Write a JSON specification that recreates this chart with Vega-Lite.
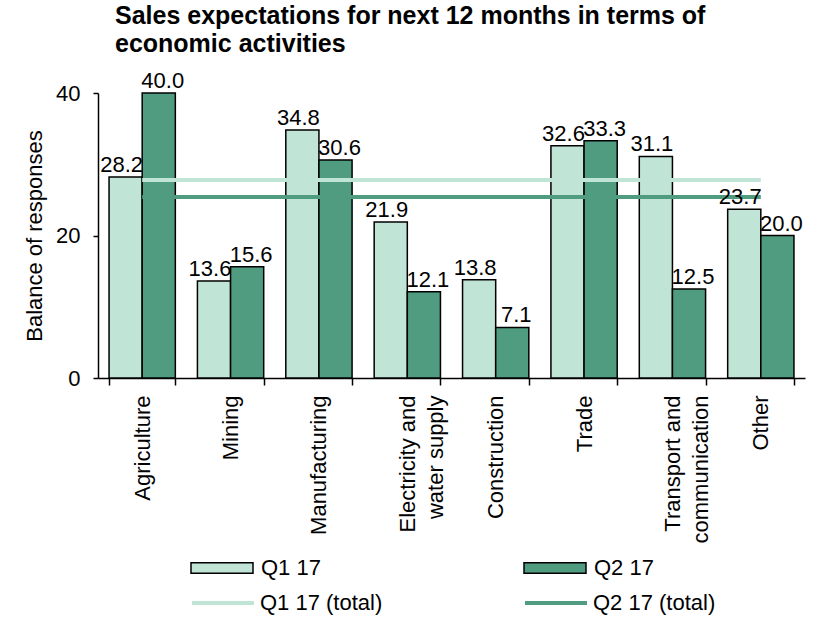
{
  "$schema": "https://vega.github.io/schema/vega-lite/v6.json",
  "width": 707,
  "height": 285,
  "autosize": {"type": "none"},
  "padding": {"left": 98, "top": 93, "right": 16, "bottom": 239},
  "background": "white",
  "config": {
    "font": "Liberation Sans",
    "view": {"stroke": null}
  },
  "title": {
    "text": ["Sales expectations for next 12 months in terms of", "economic activities"],
    "anchor": "start",
    "frame": "group",
    "dx": 17,
    "fontSize": 25,
    "font": "Liberation Sans",
    "fontWeight": "bold",
    "lineHeight": 28,
    "offset": 13,
    "color": "black"
  },
  "datasets": {
    "bars": [
      {"category": "Agriculture", "series": "Q1 17", "value": 28.2},
      {"category": "Agriculture", "series": "Q2 17", "value": 40.0},
      {"category": "Mining", "series": "Q1 17", "value": 13.6},
      {"category": "Mining", "series": "Q2 17", "value": 15.6},
      {"category": "Manufacturing", "series": "Q1 17", "value": 34.8},
      {"category": "Manufacturing", "series": "Q2 17", "value": 30.6},
      {"category": "Electricity and water supply", "series": "Q1 17", "value": 21.9},
      {"category": "Electricity and water supply", "series": "Q2 17", "value": 12.1},
      {"category": "Construction", "series": "Q1 17", "value": 13.8},
      {"category": "Construction", "series": "Q2 17", "value": 7.1},
      {"category": "Trade", "series": "Q1 17", "value": 32.6},
      {"category": "Trade", "series": "Q2 17", "value": 33.3},
      {"category": "Transport and communication", "series": "Q1 17", "value": 31.1},
      {"category": "Transport and communication", "series": "Q2 17", "value": 12.5},
      {"category": "Other", "series": "Q1 17", "value": 23.7},
      {"category": "Other", "series": "Q2 17", "value": 20.0}
    ],
    "totals": [
      {"category": "Agriculture", "series": "Q1 17 (total)", "value": 27.8},
      {"category": "Other", "series": "Q1 17 (total)", "value": 27.8},
      {"category": "Agriculture", "series": "Q2 17 (total)", "value": 25.4},
      {"category": "Other", "series": "Q2 17 (total)", "value": 25.4}
    ]
  },
  "encoding": {
    "x": {
      "field": "category",
      "type": "nominal",
      "scale": {
        "domain": ["Agriculture", "Mining", "Manufacturing", "Electricity and water supply", "Construction", "Trade", "Transport and communication", "Other"],
        "paddingInner": 0.25,
        "paddingOuter": 0.125
      },
      "axis": {
        "title": null,
        "labelAngle": -90,
        "labelAlign": "right",
        "labelBaseline": "middle",
        "labelFontSize": 22,
        "labelColor": "black",
        "labelPadding": 10,
        "labelLineHeight": 28,
        "labelLimit": 0,
        "tickBand": "extent",
        "tickSize": 7,
        "tickWidth": 1.5,
        "domainWidth": 1.5,
        "domainColor": "black",
        "tickColor": "black",
        "labelExpr": "datum.label == 'Electricity and water supply' ? ['Electricity and', 'water supply'] : datum.label == 'Transport and communication' ? ['Transport and', 'communication'] : datum.label"
      }
    },
    "y": {
      "field": "value",
      "type": "quantitative",
      "scale": {"domain": [0, 40], "nice": false},
      "axis": {
        "title": "Balance of responses",
        "values": [0, 20, 40],
        "grid": false,
        "domainColor": "black",
        "domainWidth": 1.5,
        "tickColor": "black",
        "tickWidth": 1.5,
        "tickSize": 5,
        "labelFontSize": 22,
        "labelColor": "black",
        "labelPadding": 13,
        "titleFontSize": 22,
        "titleFontWeight": "normal",
        "titleColor": "black",
        "titlePadding": 9
      }
    }
  },
  "layer": [
    {
      "data": {"name": "bars"},
      "mark": {"type": "bar", "stroke": "black", "strokeWidth": 1.5},
      "encoding": {
        "xOffset": {"field": "series", "type": "nominal", "scale": {"domain": ["Q1 17", "Q2 17"], "paddingInner": 0, "paddingOuter": 0}},
        "fill": {
          "field": "series",
          "type": "nominal",
          "scale": {"domain": ["Q1 17", "Q2 17"], "range": ["#c0e4d6", "#4f9c81"]},
          "legend": {
            "title": null,
            "orient": "none",
            "legendX": 92,
            "legendY": 464,
            "direction": "horizontal",
            "columns": 2,
            "columnPadding": 202,
            "clipHeight": 22,
            "symbolSize": 3844,
            "symbolType": "M-1,-0.17L1,-0.17L1,0.17L-1,0.17Z",
            "symbolStrokeColor": "black",
            "symbolStrokeWidth": 1.5,
            "symbolOpacity": 1,
            "labelFontSize": 22,
            "labelColor": "black",
            "labelOffset": 7,
            "padding": 0
          }
        }
      }
    },
    {
      "data": {"name": "totals"},
      "mark": {"type": "line", "strokeWidth": 4},
      "encoding": {
        "stroke": {
          "field": "series",
          "type": "nominal",
          "scale": {"domain": ["Q1 17 (total)", "Q2 17 (total)"], "range": ["#c0e4d6", "#4f9c81"]},
          "legend": {
            "title": null,
            "orient": "none",
            "legendX": 92,
            "legendY": 499,
            "direction": "horizontal",
            "columns": 2,
            "columnPadding": 140,
            "clipHeight": 22,
            "symbolSize": 3844,
            "symbolType": "M-1,0L1,0",
            "symbolStrokeWidth": 4,
            "symbolOpacity": 1,
            "labelFontSize": 22,
            "labelColor": "black",
            "labelOffset": 4,
            "padding": 0
          }
        }
      }
    },
    {
      "data": {"name": "bars"},
      "transform": [{"filter": "datum.series == 'Q1 17'"}],
      "mark": {"type": "text", "fontSize": 22, "baseline": "alphabetic", "dy": -5, "dx": -4, "color": "black"},
      "encoding": {
        "xOffset": {"field": "series", "type": "nominal"},
        "text": {"field": "value", "type": "quantitative", "format": ".1f"}
      }
    },
    {
      "data": {"name": "bars"},
      "transform": [{"filter": "datum.series == 'Q2 17'"}],
      "mark": {"type": "text", "fontSize": 22, "baseline": "alphabetic", "dy": -5, "dx": 4, "color": "black"},
      "encoding": {
        "xOffset": {"field": "series", "type": "nominal"},
        "text": {"field": "value", "type": "quantitative", "format": ".1f"}
      }
    }
  ]
}
